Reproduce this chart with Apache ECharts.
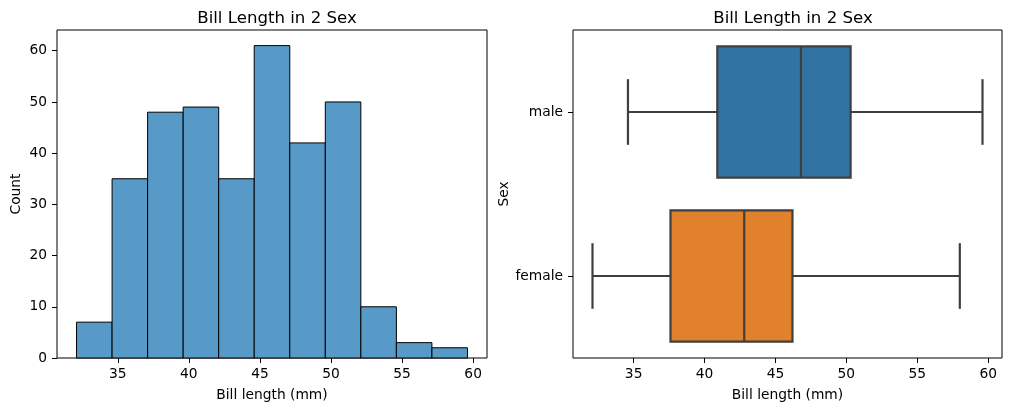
<!DOCTYPE html>
<html>
<head>
    <meta charset="utf-8" />
    <title>Bill Length in 2 Sex</title>
    <script src="https://cdn.jsdelivr.net/npm/echarts@6/dist/echarts.min.js"></script>
</head>
<body style="margin:0;background:#fff;">
    <div id="main" style="width:1011px;height:411px;"></div>
    <script type="text/javascript">
        // histogram bins (mm) and counts
        var binEdges = [32.1, 34.6, 37.1, 39.6, 42.1, 44.6, 47.1, 49.6, 52.1, 54.6, 57.1, 59.6];
        var binCounts = [7, 35, 48, 49, 35, 61, 42, 50, 10, 3, 2];

        // boxplot: min, q1, median, q3, max
        var sexes = ['male', 'female'];
        var boxStats = [
            [34.6, 40.9, 46.8, 50.3, 59.6],
            [32.1, 37.6, 42.8, 46.2, 58.0]
        ];
        var boxColors = ['#3274a1', '#e1812c'];

        var xTicks = [35, 40, 45, 50, 55, 60];
        var countTicks = [0, 10, 20, 30, 40, 50, 60];

        var histData = [];
        for (var i = 0; i < binCounts.length; i++) {
            histData.push([binEdges[i], binEdges[i + 1], binCounts[i]]);
        }
        var boxData = [];
        for (var j = 0; j < sexes.length; j++) {
            boxData.push([j].concat(boxStats[j]));
        }

        var font = 'DejaVu Sans';
        var lineGray = '#3f3f3f';

        function valueAxisX(idx) {
            return {
                type: 'value', gridIndex: idx,
                min: 30.725, max: 60.975,
                name: 'Bill length (mm)', nameLocation: 'middle', nameGap: 30,
                nameTextStyle: { fontFamily: font, fontSize: 13.8, color: '#000' },
                axisLine: { show: false },
                axisTick: { show: true, length: 5, customValues: xTicks, lineStyle: { color: '#000' } },
                axisLabel: { customValues: xTicks, fontFamily: font, fontSize: 13.8, color: '#000', margin: 9 },
                splitLine: { show: false }
            };
        }

        var chart = echarts.init(document.getElementById('main'));
        var option = {
            animation: false,
            backgroundColor: '#fff',
            title: [
                { text: 'Bill Length in 2 Sex', left: 272, top: 5, textAlign: 'center',
                  textStyle: { fontFamily: font, fontSize: 16.6, fontWeight: 'normal', color: '#000' } },
                { text: 'Bill Length in 2 Sex', left: 788, top: 5, textAlign: 'center',
                  textStyle: { fontFamily: font, fontSize: 16.6, fontWeight: 'normal', color: '#000' } }
            ],
            grid: [
                { left: 57, right: 524, top: 30, bottom: 53, show: true, borderColor: '#000', borderWidth: 1, backgroundColor: 'transparent' },
                { left: 573, right: 9, top: 30, bottom: 53, show: true, borderColor: '#000', borderWidth: 1, backgroundColor: 'transparent' }
            ],
            xAxis: [valueAxisX(0), valueAxisX(1)],
            yAxis: [
                {
                    type: 'value', gridIndex: 0, min: 0, max: 64.05,
                    name: 'Count', nameLocation: 'middle', nameGap: 34,
                    nameTextStyle: { fontFamily: font, fontSize: 13.8, color: '#000' },
                    axisLine: { show: false },
                    axisTick: { show: true, length: 5, customValues: countTicks, lineStyle: { color: '#000' } },
                    axisLabel: { customValues: countTicks, fontFamily: font, fontSize: 13.8, color: '#000', margin: 10 },
                    splitLine: { show: false }
                },
                {
                    type: 'category', gridIndex: 1, data: sexes, inverse: true,
                    name: 'Sex', nameLocation: 'middle', nameGap: 62,
                    nameTextStyle: { fontFamily: font, fontSize: 13.8, color: '#000' },
                    axisLine: { show: false },
                    axisTick: { show: true, length: 5, alignWithLabel: true, lineStyle: { color: '#000' } },
                    axisLabel: { fontFamily: font, fontSize: 13.8, color: '#000', margin: 10 },
                    splitLine: { show: false }
                }
            ],
            series: [
                {
                    type: 'custom', xAxisIndex: 0, yAxisIndex: 0,
                    data: histData,
                    encode: { x: [0, 1], y: 2 },
                    renderItem: function (params, api) {
                        var p0 = api.coord([api.value(0), api.value(2)]);
                        var p1 = api.coord([api.value(1), 0]);
                        return {
                            type: 'rect',
                            shape: { x: p0[0], y: p0[1], width: p1[0] - p0[0], height: p1[1] - p0[1] },
                            style: { fill: '#5799c7', stroke: '#000', lineWidth: 1 }
                        };
                    }
                },
                {
                    type: 'custom', xAxisIndex: 1, yAxisIndex: 1,
                    data: boxData,
                    encode: { x: [1, 2, 3, 4, 5], y: 0 },
                    renderItem: function (params, api) {
                        var cat = api.value(0);
                        var band = api.size([0, 1])[1];
                        var half = band * 0.4;
                        var cap = band * 0.2;
                        var cy = api.coord([0, cat])[1];
                        var xmin = api.coord([api.value(1), cat])[0];
                        var xq1 = api.coord([api.value(2), cat])[0];
                        var xmed = api.coord([api.value(3), cat])[0];
                        var xq3 = api.coord([api.value(4), cat])[0];
                        var xmax = api.coord([api.value(5), cat])[0];
                        var ls = { stroke: lineGray, lineWidth: 2.2 };
                        return {
                            type: 'group',
                            children: [
                                { type: 'line', shape: { x1: xmin, y1: cy, x2: xq1, y2: cy }, style: ls },
                                { type: 'line', shape: { x1: xq3, y1: cy, x2: xmax, y2: cy }, style: ls },
                                { type: 'line', shape: { x1: xmin, y1: cy - cap, x2: xmin, y2: cy + cap }, style: ls },
                                { type: 'line', shape: { x1: xmax, y1: cy - cap, x2: xmax, y2: cy + cap }, style: ls },
                                { type: 'rect', shape: { x: xq1, y: cy - half, width: xq3 - xq1, height: half * 2 },
                                  style: { fill: boxColors[cat], stroke: lineGray, lineWidth: 2.2 } },
                                { type: 'line', shape: { x1: xmed, y1: cy - half, x2: xmed, y2: cy + half }, style: ls }
                            ]
                        };
                    }
                }
            ]
        };
        chart.setOption(option);
    </script>
</body>
</html>
